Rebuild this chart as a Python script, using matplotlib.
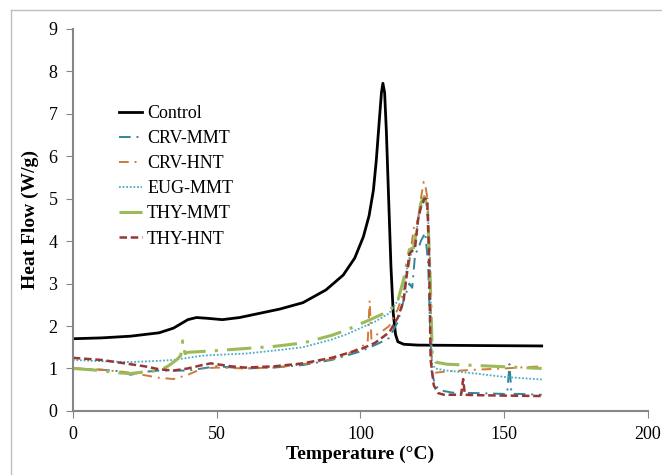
import numpy as np
import matplotlib.pyplot as plt
from matplotlib.lines import Line2D

# Control
ctrl_t = [0, 10, 20, 30, 35, 40, 43, 47, 52, 58, 65, 72, 80, 88, 94, 98, 101, 103, 104.5,
          105.5, 106.5, 107.3, 107.8, 108.4, 109, 109.8, 110.6, 111.4, 112.2, 113, 115,
          120, 140, 163]
ctrl_q = [1.7, 1.72, 1.76, 1.84, 1.95, 2.15, 2.2, 2.18, 2.15, 2.2, 2.3, 2.4, 2.55, 2.85, 3.2,
          3.6, 4.1, 4.6, 5.2, 5.9, 6.8, 7.5, 7.72, 7.5, 6.6, 5.0, 3.4, 2.3, 1.8, 1.63, 1.57,
          1.55, 1.54, 1.53]

crv_mmt_t = [0, 10, 17, 20, 25, 30, 40, 45, 50, 60, 70, 80, 90, 100, 106, 110, 113, 115,
             117, 118, 119, 120, 121, 122.5, 123.5, 124.2, 124.8, 126, 128, 132, 140, 150,
             151, 151.8, 152.5, 155, 163]
crv_mmt_q = [1.0, 0.97, 0.93, 0.85, 0.92, 0.95, 0.95, 1.0, 1.05, 1.0, 1.02, 1.08, 1.2, 1.4,
             1.58, 1.72, 2.1, 2.6, 3.0, 2.9, 3.7, 3.8, 4.0, 4.2, 3.5, 2.0, 0.9, 0.6, 0.48,
             0.43, 0.42, 0.4, 0.4, 1.1, 0.4, 0.4, 0.38]

crv_hnt_t = [0, 10, 20, 30, 35, 40, 45, 50, 60, 70, 80, 90, 95, 100, 102.5, 103.2, 103.8,
             104.5, 107, 110, 113, 115, 117, 118.5, 120, 121, 122, 122.6, 123.3, 124.2,
             124.8, 126, 130, 140, 150, 163]
crv_hnt_q = [1.0, 0.97, 0.9, 0.78, 0.75, 0.85, 1.0, 1.02, 1.0, 1.02, 1.1, 1.22, 1.32, 1.5,
             1.6, 2.6, 1.7, 1.75, 1.85, 2.0, 2.4, 2.8, 3.5, 4.3, 4.5, 5.0, 5.4, 5.3, 5.0,
             3.5, 1.0, 0.9, 0.93, 0.97, 1.0, 1.05]

eug_mmt_t = [0, 10, 20, 30, 35, 40, 45, 50, 60, 70, 80, 90, 95, 100, 105, 110, 113, 115,
             117, 119, 120, 121, 122.5, 123.5, 124.3, 124.9, 126, 130, 140, 150, 163]
eug_mmt_q = [1.2, 1.17, 1.15, 1.18, 1.2, 1.25, 1.3, 1.32, 1.35, 1.42, 1.5, 1.68, 1.8, 1.95,
             2.1, 2.3, 2.6, 3.0, 3.6, 3.9, 4.5, 4.8, 5.0, 4.6, 3.0, 1.1, 1.0, 0.95, 0.88,
             0.8, 0.74]

thy_mmt_t = [0, 10, 15, 20, 25, 30, 33, 36, 37.5, 38.2, 39, 40, 45, 50, 60, 70, 80, 90, 95,
             100, 105, 110, 113, 115, 117, 118.5, 120, 121, 122.2, 123.3, 124.3, 125,
             126, 130, 140, 150, 163]
thy_mmt_q = [1.0, 0.95, 0.9, 0.88, 0.92, 0.95, 1.05, 1.2, 1.3, 1.65, 1.35, 1.38, 1.4, 1.42,
             1.47, 1.52, 1.6, 1.78, 1.9, 2.05, 2.2, 2.35, 2.6, 3.1, 3.8, 3.85, 4.5, 4.9,
             5.05, 4.8, 3.0, 1.25, 1.15, 1.1, 1.07, 1.04, 1.0]

thy_hnt_t = [0, 10, 20, 25, 30, 35, 40, 45, 48, 55, 60, 70, 80, 90, 100, 105, 110, 113, 115,
             117, 119, 120, 121, 122.2, 123.2, 123.8, 124.4, 125.5, 127, 129, 135, 135.7,
             136.3, 140, 150, 163]
thy_hnt_q = [1.25, 1.2, 1.1, 1.05, 0.98, 0.95, 1.0, 1.08, 1.12, 1.05, 1.02, 1.05, 1.12, 1.25,
             1.45, 1.6, 1.85, 2.2, 2.6, 3.7, 3.85, 4.5, 4.8, 5.0, 5.0, 3.8, 1.2, 0.6, 0.42,
             0.38, 0.38, 0.75, 0.38, 0.37, 0.36, 0.35]

x_ticks = [0, 50, 100, 150, 200]
y_ticks = list(range(0, 10))

plt.rcParams['font.family'] = ['Liberation Serif', 'DejaVu Serif']

fig = plt.figure(figsize=(6.62, 4.75), dpi=100)
ax = fig.add_axes([0.110, 0.135, 0.869, 0.804])

ax.plot(ctrl_t, ctrl_q, color='black', lw=2.0, label='Control')
ax.plot(crv_mmt_t, crv_mmt_q, color='#31859C', lw=1.4, dashes=(6, 3, 1, 3),
        label='CRV-MMT')
ax.plot(crv_hnt_t, crv_hnt_q, color='#D07A35', lw=1.4, dashes=(5, 3, 1, 3),
        label='CRV-HNT')
ax.plot(eug_mmt_t, eug_mmt_q, color='#4BACC6', lw=1.3, dashes=(1, 1),
        label='EUG-MMT')
ax.plot(thy_mmt_t, thy_mmt_q, color='#9BBB59', lw=2.2, dashes=(8, 3, 1, 3),
        label='THY-MMT')
ax.plot(thy_hnt_t, thy_hnt_q, color='#953735', lw=1.8, dashes=(3, 1.5),
        label='THY-HNT')

ax.set_xlim(0, 200)
ax.set_ylim(0, 9)
ax.set_xticks(x_ticks)
ax.set_yticks(y_ticks)
ax.tick_params(labelsize=13, color='#868686', length=5, direction='out', pad=6)
for s in ['top', 'right']:
    ax.spines[s].set_visible(False)
for s in ['left', 'bottom']:
    ax.spines[s].set_color('#868686')
    ax.spines[s].set_linewidth(1.5)

ax.set_xlabel('Temperature (°C)', fontsize=14, fontweight='bold', labelpad=2)
ax.set_ylabel('Heat Flow (W/g)', fontsize=14, fontweight='bold', labelpad=7)

ax.legend(loc='upper left', bbox_to_anchor=(0.068, 0.82), frameon=False, fontsize=13,
          handlelength=1.25, handletextpad=0.3, labelspacing=0.45, borderaxespad=0)

# outer chart-area border
fig.add_artist(Line2D([11 / 662, 11 / 662], [0, 1 - 10 / 475], color='#BFBFBF',
                      lw=1, transform=fig.transFigure))
fig.add_artist(Line2D([11 / 662, 1], [1 - 10 / 475, 1 - 10 / 475], color='#BFBFBF',
                      lw=1, transform=fig.transFigure))

fig.savefig('out.png', dpi=100)
